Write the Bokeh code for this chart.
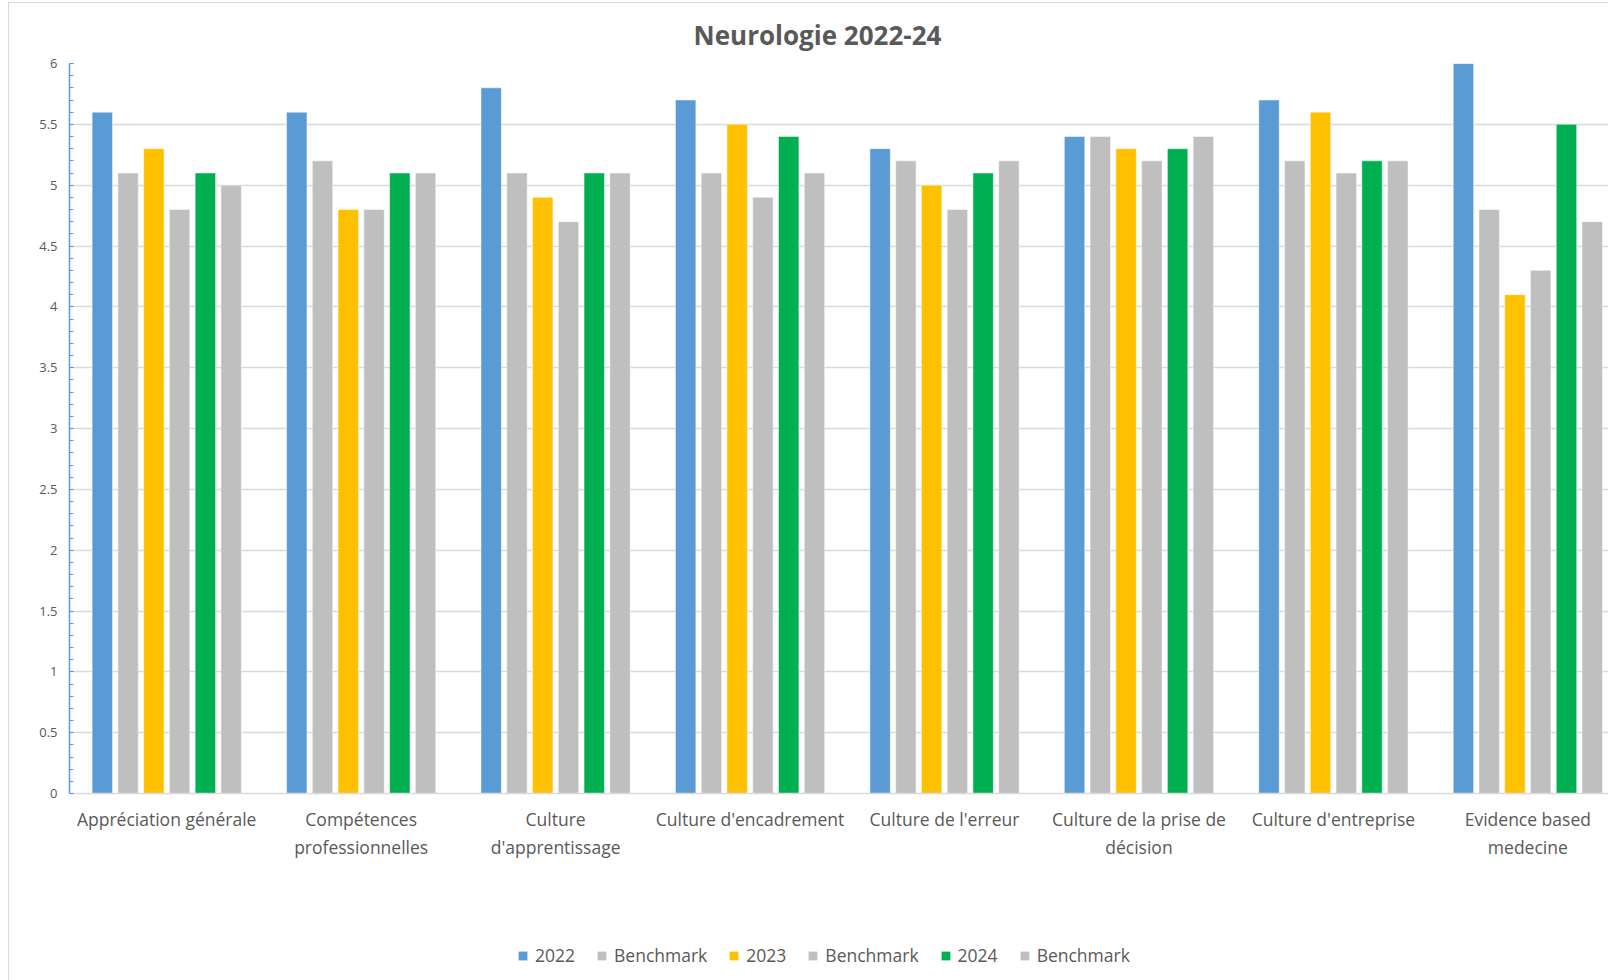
from bokeh.plotting import figure
from bokeh.layouts import column
from bokeh.models import (ColumnDataSource, Range1d, FixedTicker, Legend, LegendItem)
from bokeh.core.properties import value
from bokeh.transform import dodge
from bokeh.embed import file_html
from bokeh.resources import INLINE

title_text = "Neurologie 2022-24"
categories = ["Appréciation générale", "Compétences\nprofessionnelles", "Culture\nd'apprentissage",
              "Culture d'encadrement", "Culture de l'erreur", "Culture de la prise de\ndécision",
              "Culture d'entreprise", "Evidence based\nmedecine"]
series_names = ["2022", "Benchmark", "2023", "Benchmark", "2024", "Benchmark"]
series_colors = ["#5B9BD5", "#BFBFBF", "#FFC000", "#BFBFBF", "#00B050", "#BFBFBF"]
v2022 = [5.6, 5.6, 5.8, 5.7, 5.3, 5.4, 5.7, 6.0]
bench1 = [5.1, 5.2, 5.1, 5.1, 5.2, 5.4, 5.2, 4.8]
v2023 = [5.3, 4.8, 4.9, 5.5, 5.0, 5.3, 5.6, 4.1]
bench2 = [4.8, 4.8, 4.7, 4.9, 4.8, 5.2, 5.1, 4.3]
v2024 = [5.1, 5.1, 5.1, 5.4, 5.1, 5.3, 5.2, 5.5]
bench3 = [5.0, 5.1, 5.1, 5.1, 5.2, 5.4, 5.2, 4.7]
series_values = [v2022, bench1, v2023, bench2, v2024, bench3]
y_ticks = [0, 0.5, 1, 1.5, 2, 2.5, 3, 3.5, 4, 4.5, 5, 5.5, 6]

centers = [i + 0.5 for i in range(len(categories))]
data = {"x": centers}
for k, vals in enumerate(series_values):
    data[f"s{k}"] = vals
src = ColumnDataSource(data)

FONT = "Open Sans"
TXT = "#595959"

# ---- title strip (ranges mapped to pixels; frame starts at x=60 like the chart's) ----
p0 = figure(width=1600, height=51, output_backend="svg", toolbar_location=None,
            x_range=Range1d(60, 1600), y_range=Range1d(0, 51),
            x_axis_type=None, y_axis_type=None, min_border=0)
p0.outline_line_color = None
p0.xgrid.grid_line_color = None
p0.ygrid.grid_line_color = None
p0.text(x=[808], y=[20], text=[title_text], text_font=value(FONT), text_font_size="26px",
        text_font_style="bold", text_color=TXT, text_align="center", text_baseline="middle")

# ---- main chart ----
p = figure(width=1600, height=827, output_backend="svg", toolbar_location=None,
           x_range=Range1d(0, 7.92), y_range=Range1d(0, 6),
           min_border_left=60, min_border_right=0, min_border_top=9, min_border_bottom=88)
p.outline_line_color = None
p.background_fill_color = "white"
p.border_fill_color = "white"

pitch = 0.1325
bw = 0.105
for k in range(6):
    p.vbar(x=dodge("x", (k - 2.5) * pitch, range=p.x_range), top=f"s{k}", width=bw,
           bottom=0, source=src, fill_color=series_colors[k], line_color="white",
           line_alpha=0.6, line_width=0.8)

p.xaxis.ticker = FixedTicker(ticks=centers)
p.xaxis.major_label_overrides = {c: lab for c, lab in zip(centers, categories)}
p.xaxis.major_label_text_font = FONT
p.xaxis.major_label_text_font_size = "17.5px"
p.xaxis.major_label_text_color = TXT
p.xaxis.major_label_standoff = 7
p.xaxis.major_tick_line_color = None
p.xaxis.minor_tick_line_color = None
p.xaxis.axis_line_color = "#d9d9d9"
p.xaxis.axis_line_width = 1.5

p.yaxis.ticker = FixedTicker(ticks=y_ticks, minor_ticks=[i / 10 for i in range(61)])
p.yaxis.major_label_text_font = FONT
p.yaxis.major_label_text_font_size = "13px"
p.yaxis.major_label_text_color = TXT
p.yaxis.axis_line_color = "#5B9BD5"
p.yaxis.axis_line_width = 1.5
p.yaxis.major_tick_line_color = "#5B9BD5"
p.yaxis.minor_tick_line_color = "#5B9BD5"
p.yaxis.major_tick_in = 4
p.yaxis.major_tick_out = 0
p.yaxis.minor_tick_in = 4
p.yaxis.minor_tick_out = 0
p.yaxis.major_label_standoff = 12

p.xgrid.grid_line_color = None
p.ygrid.ticker = FixedTicker(ticks=y_ticks)
p.ygrid.grid_line_color = "#d9d9d9"
p.ygrid.grid_line_width = 1.3

# ---- legend strip ----
p2 = figure(width=1600, height=100, output_backend="svg", toolbar_location=None,
            x_range=Range1d(100, 101), y_range=Range1d(100, 101),
            x_axis_type=None, y_axis_type=None, min_border=0)
p2.outline_line_color = None
p2.xgrid.grid_line_color = None
p2.ygrid.grid_line_color = None
leg_renderers = []
for k in range(6):
    r = p2.vbar(x=dodge("x", (k - 2.5) * pitch, range=p2.x_range), top=f"s{k}", width=bw,
                bottom=0, source=src, fill_color=series_colors[k], line_color=None)
    leg_renderers.append(r)
items = [LegendItem(label=series_names[k], renderers=[leg_renderers[k]]) for k in range(6)]
legend = Legend(items=items, orientation="horizontal", location=(448, 14),
                padding=0, margin=0, spacing=21, label_standoff=7,
                glyph_width=11, glyph_height=11, border_line_color=None,
                background_fill_alpha=0,
                label_text_font=FONT, label_text_font_size="17.5px", label_text_color=TXT)
p2.add_layout(legend, "center")

layout = column(p0, p, p2, spacing=0)
layout.styles = {"margin-left": "8px", "margin-top": "2px",
                 "border-left": "1px solid #d9d9d9", "border-top": "1px solid #d9d9d9"}

open("out.html", "w").write(file_html(layout, INLINE))
